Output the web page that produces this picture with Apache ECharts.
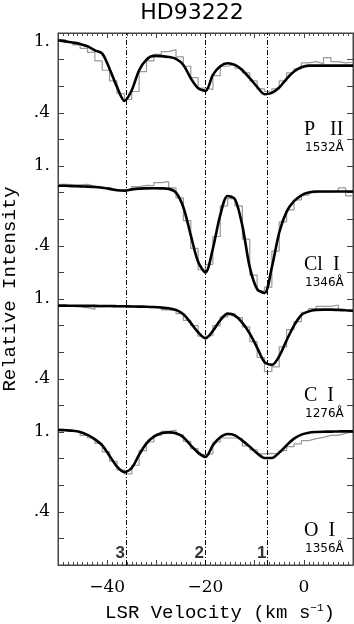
<!DOCTYPE html>
<html>
<head>
<meta charset="utf-8">
<script src="https://cdn.jsdelivr.net/npm/echarts@6/dist/echarts.min.js"></script>
<style>
  html, body { margin: 0; padding: 0; background: #fff; }
  #chart { width: 354px; height: 624px; }
</style>
</head>
<body>
<div id="chart"></div>
<script>
// velocity grid (km/s) - fit points and histogram bin edges
const velocity = [-50, -48.5, -47, -45.5, -44, -42.5, -41, -39.5, -38, -36.5, -35, -33.5, -32, -30.5, -29, -27.5,
  -26, -24.5, -23, -21.5, -20, -18.5, -17, -15.5, -14, -12.5, -11, -9.5, -8, -6.5, -5, -3.5, -2, -0.5,
  1, 2.5, 4, 5.5, 7, 8.5, 10];

// P II 1532
const pFit = [0.945, 0.937, 0.928, 0.918, 0.90, 0.87, 0.845, 0.73, 0.595, 0.49, 0.57, 0.72, 0.80, 0.828, 0.826, 0.82,
  0.805, 0.76, 0.66, 0.585, 0.565, 0.685, 0.75, 0.773, 0.76, 0.72, 0.66, 0.595, 0.54, 0.55, 0.59, 0.655, 0.71, 0.742,
  0.755, 0.755, 0.755, 0.755, 0.755, 0.755, 0.755];
const pHist = [0.95, 0.93, 0.91, 0.885, 0.855, 0.79, 0.72, 0.64, 0.545, 0.50, 0.56, 0.71, 0.79, 0.84, 0.86, 0.875,
  0.82, 0.75, 0.665, 0.585, 0.575, 0.68, 0.75, 0.765, 0.735, 0.70, 0.64, 0.58, 0.56, 0.58, 0.64, 0.70, 0.73, 0.775,
  0.785, 0.77, 0.815, 0.785, 0.775, 0.78];

// Cl I 1346
const clFit = [0.852, 0.851, 0.849, 0.847, 0.845, 0.842, 0.836, 0.828, 0.818, 0.815, 0.824, 0.83, 0.832, 0.833, 0.832,
  0.828, 0.80, 0.69, 0.48, 0.28, 0.20, 0.38, 0.63, 0.775, 0.75, 0.55, 0.24, 0.075, 0.045, 0.24, 0.50, 0.657, 0.735,
  0.78, 0.80, 0.808, 0.808, 0.808, 0.808, 0.808, 0.808];
const clHist = [0.862, 0.86, 0.858, 0.862, 0.848, 0.84, 0.835, 0.822, 0.815, 0.82, 0.845, 0.855, 0.852, 0.875, 0.883,
  0.835, 0.76, 0.59, 0.38, 0.22, 0.26, 0.47, 0.70, 0.755, 0.70, 0.45, 0.18, 0.06, 0.09, 0.36, 0.58, 0.67, 0.745,
  0.78, 0.80, 0.805, 0.805, 0.81, 0.835, 0.775];

// C I 1276
const cFit = [0.95, 0.95, 0.949, 0.949, 0.948, 0.948, 0.947, 0.947, 0.946, 0.945, 0.944, 0.943, 0.942, 0.94, 0.936,
  0.93, 0.918, 0.885, 0.82, 0.75, 0.705, 0.76, 0.84, 0.89, 0.875, 0.82, 0.74, 0.635, 0.525, 0.505, 0.57, 0.69, 0.80,
  0.88, 0.907, 0.918, 0.92, 0.92, 0.918, 0.915, 0.912];
const cHist = [0.948, 0.945, 0.94, 0.935, 0.922, 0.94, 0.945, 0.943, 0.945, 0.942, 0.94, 0.942, 0.935, 0.938, 0.918,
  0.912, 0.89, 0.84, 0.80, 0.72, 0.725, 0.80, 0.865, 0.89, 0.86, 0.79, 0.68, 0.56, 0.455, 0.49, 0.64, 0.77, 0.83,
  0.90, 0.928, 0.945, 0.945, 0.955, 0.915, 0.905];

// O I 1356
const oFit = [1.015, 1.013, 1.01, 1.0, 0.978, 0.945, 0.90, 0.82, 0.74, 0.698, 0.73, 0.83, 0.915, 0.965, 0.99, 0.997,
  0.99, 0.96, 0.90, 0.845, 0.812, 0.90, 0.96, 0.985, 0.975, 0.935, 0.89, 0.84, 0.805, 0.805, 0.845, 0.90, 0.95,
  0.98, 0.995, 1.0, 1.002, 1.003, 1.004, 1.005, 1.005];
const oHist = [1.02, 1.01, 1.0, 0.975, 0.955, 0.915, 0.85, 0.78, 0.715, 0.685, 0.75, 0.86, 0.925, 0.975, 1.005, 1.015,
  0.98, 0.93, 0.875, 0.83, 0.835, 0.925, 0.955, 0.955, 0.95, 0.895, 0.865, 0.835, 0.84, 0.835, 0.86, 0.89, 0.91,
  0.935, 0.95, 0.96, 0.975, 0.975, 0.99, 1.005];

// components and tick labels
const componentVel = [-36.2, -20.1, -7.4];
const componentLabels = ['3', '2', '1'];
const xTickLabels = [-40, -20, 0];
const yTickLabels = ['', '', '.4', '', '', '1.', '', '.4', '', '', '1.', '', '.4', '', '', '1.', '', '.4', '', '', '1.'];

const panels = [
  { name: 'P   II', wave: '1532Å', fit: pFit, hist: pHist, offset: 3, nameY: 130 },
  { name: 'Cl  I', wave: '1346Å', fit: clFit, hist: clHist, offset: 2, nameY: 265 },
  { name: 'C  I', wave: '1276Å', fit: cFit, hist: cHist, offset: 1, nameY: 396 },
  { name: 'O  I', wave: '1356Å', fit: oFit, hist: oHist, offset: 0, nameY: 531 }
];

const chart = echarts.init(document.getElementById('chart'));

const series = [];
panels.forEach((p, k) => {
  // histogram of the data
  const histData = p.hist.map((h, i) => [velocity[i], h + p.offset]);
  histData.push([velocity[velocity.length - 1], p.hist[p.hist.length - 1] + p.offset]);
  series.push({
    type: 'line',
    step: 'end',
    data: histData,
    symbol: 'none',
    lineStyle: { color: '#999', width: 1.2 },
    z: 2
  });
  // fitted profile
  const fit = {
    type: 'line',
    data: velocity.map((v, i) => [v, p.fit[i] + p.offset]),
    symbol: 'none',
    smooth: 0.3,
    lineStyle: { color: '#000', width: 2.6 },
    z: 3
  };
  if (k === 0) {
    fit.markLine = {
      silent: true,
      symbol: 'none',
      label: { show: false },
      lineStyle: { color: '#000', width: 1, type: [5, 2, 1, 2] },
      data: componentVel.map(v => ({ xAxis: v }))
    };
  }
  series.push(fit);
});

// component numbers near the bottom (bound to the mirror axes)
series.push({
  type: 'scatter',
  xAxisIndex: 1,
  yAxisIndex: 1,
  symbolSize: 0,
  data: componentVel.map(v => [v, 0.09]),
  label: {
    show: true,
    position: 'left',
    distance: 1,
    formatter: p => componentLabels[p.dataIndex],
    fontFamily: 'Liberation Sans',
    fontWeight: 'bold',
    fontSize: 17,
    color: '#000'
  },
  z: 4
});

const axisColor = '#444';
const xBase = {
  type: 'value',
  min: -50,
  max: 10,
  interval: 10,
  axisLine: { show: true, onZero: false, lineStyle: { color: axisColor } },
  axisTick: { show: true, inside: true, length: 5, lineStyle: { color: axisColor } },
  minorTick: { show: true, splitNumber: 10, length: 3, lineStyle: { color: axisColor } },
  splitLine: { show: false }
};
const yBase = {
  type: 'value',
  min: 0,
  max: 4,
  interval: 0.2,
  axisLine: { show: true, onZero: false, lineStyle: { color: axisColor } },
  axisTick: { show: true, inside: true, length: 6, lineStyle: { color: axisColor } },
  splitLine: { show: false }
};

const graphic = [
  {
    type: 'text', x: 192, y: 13,
    style: { text: 'HD93222', font: '22px "DejaVu Sans"', fill: '#000', align: 'center', verticalAlign: 'middle' }
  },
  {
    type: 'text', x: 10, y: 289, rotation: Math.PI / 2,
    style: { text: 'Relative Intensity', font: '19px "Liberation Mono"', fill: '#000', align: 'center', verticalAlign: 'middle' }
  },
  {
    type: 'text', x: 220, y: 613,
    style: {
      text: 'LSR Velocity (km s{sup|−1})',
      font: '19px "Liberation Mono"',
      fill: '#000',
      align: 'center',
      verticalAlign: 'middle',
      rich: { sup: { fontSize: 11, fontFamily: 'Liberation Mono', padding: [0, 0, 9, 0] } }
    }
  }
];
panels.forEach(p => {
  graphic.push({
    type: 'text', x: 304, y: p.nameY,
    style: { text: p.name, font: '20px "Liberation Serif"', fill: '#000', align: 'left', verticalAlign: 'middle' }
  });
  graphic.push({
    type: 'text', x: 305, y: p.nameY + 18,
    style: { text: p.wave, font: '12px "DejaVu Sans"', fill: '#000', align: 'left', verticalAlign: 'middle' }
  });
});

const option = {
  animation: false,
  grid: {
    left: 58, right: 1, top: 33, bottom: 59,
    outerBoundsMode: 'none',
    show: true, borderColor: axisColor, borderWidth: 1
  },
  xAxis: [
    Object.assign({}, xBase, {
      position: 'bottom',
      axisLabel: {
        margin: 14,
        fontFamily: 'DejaVu Serif',
        fontSize: 17,
        color: '#000',
        formatter: v => xTickLabels.includes(v) ? (v < 0 ? '−' + Math.abs(v) : String(v)) : ''
      }
    }),
    Object.assign({}, xBase, { position: 'top', axisLabel: { show: false } })
  ],
  yAxis: [
    Object.assign({}, yBase, {
      position: 'left',
      axisLabel: {
        margin: 8,
        fontFamily: 'DejaVu Serif',
        fontSize: 17,
        color: '#000',
        formatter: v => {
          const k = Math.round(v * 5);
          const t = yTickLabels[k] || '';
          return k === 20 ? '{top|' + t + '}' : t;
        },
        rich: { top: { fontFamily: 'DejaVu Serif', fontSize: 17, color: '#000', padding: [18, 0, 0, 0] } }
      }
    }),
    Object.assign({}, yBase, { position: 'right', axisLabel: { show: false } })
  ],
  graphic: graphic,
  series: series
};

chart.setOption(option);
</script>
</body>
</html>
